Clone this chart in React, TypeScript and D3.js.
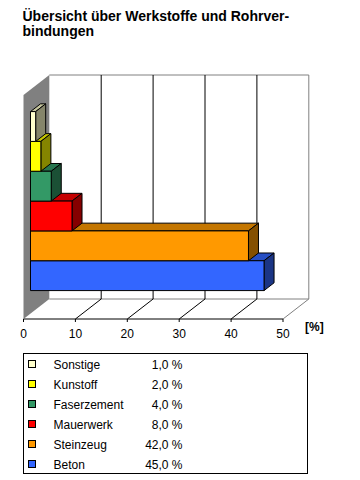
import React from "react";
import * as d3 from "d3";

const categories = ["Sonstige", "Kunstoff", "Faserzement", "Mauerwerk", "Steinzeug", "Beton"];
const values = [1, 2, 4, 8, 42, 45];
const frontColors = ["#ffffcc", "#ffff00", "#339966", "#ff0000", "#ff9900", "#3366ff"];
const xTicks = [0, 10, 20, 30, 40, 50];
const titleLines = ["Übersicht über Werkstoffe und Rohrver-", "bindungen"];
const unitLabel = "[%]";

const FONT = "'Liberation Sans', Arial, sans-serif";
const locale = d3.formatLocale({ decimal: ",", thousands: ".", grouping: [3], currency: ["", " €"] });
const fmt = locale.format(".1f");

export default function App() {
  const W = 360, H = 480;
  const x = d3.scaleLinear().domain([0, 50]).range([23.5, 283]);
  const y = d3.scaleBand<string>().domain(categories).range([117, 296]).padding(0);
  const DX = 25.8, DY = -20;
  const P = (xv: number, yv: number, z: number): [number, number] => [xv + DX * z, yv + DY * z];
  const poly = (pts: [number, number][]) => pts.map((p) => p.join(",")).join(" ");

  const wallTop = 95, floorY = 319;
  const z0 = 0.271, z1 = 0.659;
  const darken = (c: string, k: number) => {
    const r = d3.rgb(c);
    return d3.rgb(r.r * k, r.g * k, r.b * k).formatHex();
  };
  const gray = "#808080";

  const bars = categories.map((c, i) => ({ c, v: values[i], col: frontColors[i] })).reverse();

  return (
    <svg width={W} height={H} style={{ position: "absolute", left: 0, top: 0, background: "#fff" }} fontFamily={FONT}>
      {titleLines.map((t, i) => (
        <text key={i} x={22.5} y={21 + i * 15} fontSize={14} fontWeight="bold" fill="#000">{t}</text>
      ))}
      {/* side wall */}
      <polygon points={poly([P(x(0), wallTop, 0), P(x(0), wallTop, 1), P(x(0), floorY, 1), P(x(0), floorY, 0)])} fill="#808080" />
      {/* back wall outline */}
      <polyline points={poly([P(x(0), wallTop, 1), P(x(50), wallTop, 1), P(x(50), floorY, 1)])} fill="none" stroke={gray} strokeWidth={1} />
      <line x1={P(x(0), floorY, 1)[0]} y1={P(x(0), floorY, 1)[1]} x2={P(x(50), floorY, 1)[0]} y2={P(x(50), floorY, 1)[1]} stroke={gray} />
      <line x1={P(x(50), floorY, 1)[0]} y1={P(x(50), floorY, 1)[1]} x2={x(50)} y2={floorY} stroke={gray} />
      {/* grid */}
      {xTicks.filter((t) => t > 0 && t < 50).map((t) => {
        const a = P(x(t), wallTop, 1), b = P(x(t), floorY, 1);
        return (
          <g key={t}>
            <line x1={a[0]} y1={a[1]} x2={b[0]} y2={b[1]} stroke="#000" />
            <line x1={b[0]} y1={b[1]} x2={x(t)} y2={floorY} stroke="#000" />
          </g>
        );
      })}
      {/* axis */}
      <line x1={x(0)} y1={floorY} x2={x(50)} y2={floorY} stroke="#000" />
      {xTicks.map((t) => (
        <g key={t}>
          <line x1={x(t)} y1={floorY} x2={x(t)} y2={floorY + 3} stroke="#000" />
          <text x={x(t)} y={338} fontSize={12} textAnchor="middle" fill="#000">{t}</text>
        </g>
      ))}
      <text x={305} y={331} fontSize={12} fontWeight="bold" fill="#000">{unitLabel}</text>
      {/* bars */}
      {bars.map((b) => {
        const yt = y(b.c)!, yb = yt + y.bandwidth();
        const xa = x(0), xb = x(b.v);
        const front = [P(xa, yt, z0), P(xb, yt, z0), P(xb, yb, z0), P(xa, yb, z0)];
        const top = [P(xa, yt, z0), P(xb, yt, z0), P(xb, yt, z1), P(xa, yt, z1)];
        const side = [P(xb, yt, z0), P(xb, yt, z1), P(xb, yb, z1), P(xb, yb, z0)];
        return (
          <g key={b.c} stroke="#000" strokeWidth={1} strokeLinejoin="round">
            <polygon points={poly(top)} fill={darken(b.col, 0.77)} />
            <polygon points={poly(side)} fill={darken(b.col, 0.52)} />
            <polygon points={poly(front)} fill={b.col} />
          </g>
        );
      })}
      {/* legend */}
      <rect x={23.5} y={353.5} width={284} height={120} fill="none" stroke="#000" />
      {categories.map((c, i) => {
        const cy = 364.5 + i * 20;
        return (
          <g key={c}>
            <rect x={28.5} y={cy - 4} width={7} height={7} fill={frontColors[i]} stroke="#000" />
            <text x={53.5} y={cy + 4.5} fontSize={12} fill="#000">{c}</text>
            <text x={182.5} y={cy + 4.5} fontSize={12} textAnchor="end" fill="#000">{fmt(values[i]) + " %"}</text>
          </g>
        );
      })}
    </svg>
  );
}
